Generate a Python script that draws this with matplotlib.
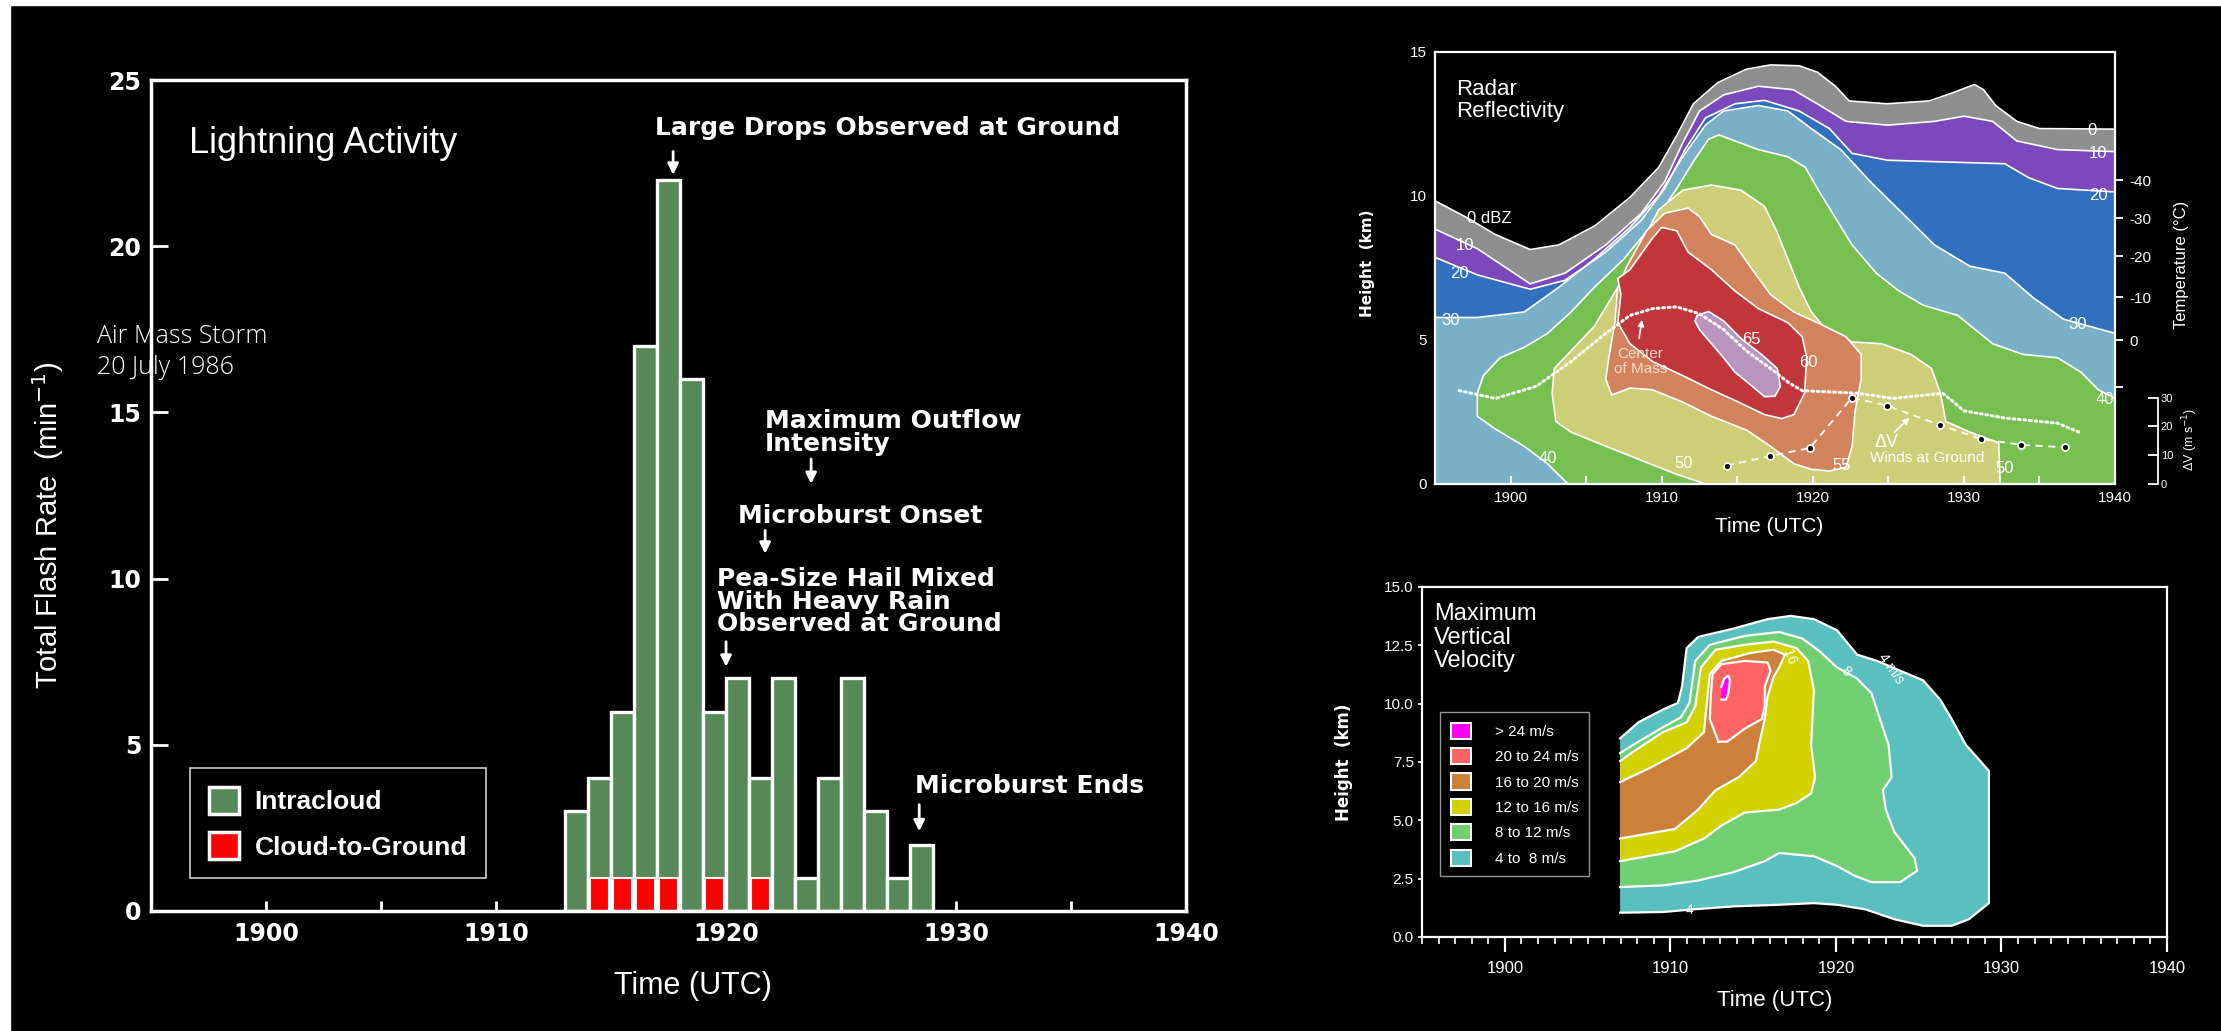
import numpy as np
import matplotlib.pyplot as plt
from matplotlib.patches import Patch, Rectangle

plt.rcParams['font.family'] = ['Liberation Sans', 'DejaVu Sans']
NARROW = ['Liberation Sans Narrow', 'Liberation Sans', 'DejaVu Sans']

# ---------------- lightning activity (left) ----------------
bin_start = [1913, 1914, 1915, 1916, 1917, 1918, 1919, 1920,
             1921, 1922, 1923, 1924, 1925, 1926, 1927, 1928]
total_rate = [3, 4, 6, 17, 22, 16, 6, 7, 4, 7, 1, 4, 7, 3, 1, 2]
cg_start = [1914, 1915, 1916, 1917, 1919, 1921]
cg_rate = [1, 1, 1, 1, 1, 1]

# text, text x, text y, arrow x, arrow tail, arrow tip
events = [
    ("Large Drops Observed at Ground", 1916.9, 23.55, 1917.7, 22.85, 22.15),
    ("Maximum Outflow\nIntensity", 1921.7, 14.4, 1923.7, 13.6, 12.85),
    ("Microburst Onset", 1920.5, 11.88, 1921.7, 11.45, 10.75),
    ("Pea-Size Hail Mixed\nWith Heavy Rain\nObserved at Ground", 1919.6, 9.3, 1920.0, 8.1, 7.35),
    ("Microburst Ends", 1928.2, 3.76, 1928.4, 3.2, 2.4),
]

# ---------------- radar reflectivity (top right) ----------------
# upper edges of the layered echo (time UTC, height km)
dbz0_top = [(1895.0, 9.83), (1897.0, 9.28), (1899.0, 8.66), (1901.3, 8.14), (1903.2, 8.30),
            (1905.6, 8.97), (1907.9, 9.95), (1909.8, 10.99), (1911.0, 12.10), (1912.1, 13.20),
            (1913.7, 13.93), (1915.6, 14.40), (1917.2, 14.55), (1919.1, 14.52), (1920.3, 14.30),
            (1921.5, 13.81), (1922.4, 13.30), (1924.9, 13.20), (1927.7, 13.30), (1929.2, 13.57),
            (1930.7, 13.87), (1931.3, 13.69), (1932.1, 13.14), (1933.5, 12.59), (1935.0, 12.34),
            (1940.0, 12.32)]
dbz10_top = [(1895.0, 8.85), (1897.8, 8.17), (1901.3, 6.95), (1903.6, 7.32), (1906.3, 8.30),
             (1908.65, 9.40), (1910.2, 10.50), (1911.4, 11.85), (1912.5, 12.95), (1914.1, 13.51),
             (1916.4, 13.81), (1918.7, 13.69), (1920.3, 13.20), (1922.2, 12.59), (1924.95, 12.46),
             (1928.05, 12.59), (1930.0, 12.77), (1931.9, 12.59), (1933.5, 11.91), (1936.2, 11.61),
             (1940.0, 11.54)]
dbz20_top = [(1895.0, 7.87), (1897.8, 7.26), (1901.3, 6.76), (1903.6, 7.07), (1906.3, 8.05),
             (1908.65, 9.15), (1910.2, 10.26), (1911.55, 11.61), (1912.9, 12.71), (1914.85, 13.20),
             (1916.8, 13.32), (1919.1, 12.95), (1921.1, 12.34), (1922.6, 11.48), (1924.95, 11.24),
             (1928.8, 11.18), (1932.7, 11.12), (1934.3, 10.63), (1936.2, 10.26), (1940.0, 10.14)]
dbz30_top = [(1895.0, 5.78), (1897.8, 5.78), (1900.9, 5.97), (1903.2, 6.83), (1905.55, 7.81),
             (1907.9, 8.91), (1909.8, 10.01), (1911.4, 11.36), (1912.9, 12.46), (1914.1, 12.95),
             (1916.4, 13.14), (1918.35, 12.95), (1919.9, 12.34), (1921.85, 11.61), (1923.8, 10.50),
             (1925.7, 9.52), (1928.05, 8.30), (1930.4, 7.56), (1932.7, 7.32), (1934.6, 6.46),
             (1936.6, 5.72), (1940.0, 5.23)]
# closed cores
dbz40_edge = [(1903.8, 0.0), (1902.45, 0.70), (1900.9, 1.31), (1898.96, 1.92), (1897.8, 2.35),
              (1897.8, 3.15), (1898.2, 3.76), (1899.3, 4.38), (1900.9, 4.74), (1902.45, 5.23),
              (1904.0, 5.97), (1905.55, 6.83), (1907.5, 7.81), (1909.4, 9.03), (1911.0, 10.26),
              (1912.15, 11.24), (1913.1, 11.97), (1913.8, 12.12), (1914.85, 11.91), (1916.4, 11.61),
              (1918.35, 11.36), (1919.5, 11.00), (1920.3, 10.26), (1921.45, 9.28), (1922.6, 8.30),
              (1924.2, 7.32), (1925.7, 6.70), (1927.3, 6.21), (1929.6, 5.85), (1931.9, 4.87),
              (1933.9, 4.50), (1936.2, 4.38), (1937.75, 3.88), (1938.9, 3.27), (1940.0, 2.97),
              (1940.0, 0.0)]
dbz50_edge = [(1912.9, 0.0), (1911.0, 0.33), (1908.65, 0.82), (1906.3, 1.31), (1904.0, 1.80),
              (1903.0, 2.17), (1902.75, 3.15), (1902.9, 4.01), (1904.0, 4.62), (1905.55, 5.48),
              (1907.1, 6.83), (1908.45, 8.17), (1909.8, 9.52), (1911.4, 10.20), (1913.3, 10.38),
              (1915.25, 10.20), (1916.8, 9.64), (1917.6, 8.79), (1918.35, 7.81), (1919.1, 6.83),
              (1919.9, 5.97), (1921.1, 5.23), (1922.6, 4.93), (1924.55, 4.87), (1926.5, 4.50),
              (1927.85, 4.01), (1928.45, 3.15), (1928.8, 2.17), (1930.4, 1.80), (1932.3, 1.43),
              (1932.4, 0.0)]
dbz55_edge = [(1906.7, 3.09), (1906.3, 3.64), (1906.5, 4.38), (1906.9, 5.60), (1907.1, 6.83),
              (1907.7, 7.56), (1909.0, 8.79), (1910.2, 9.40), (1911.75, 9.58), (1912.5, 9.28),
              (1913.3, 8.66), (1914.85, 8.30), (1916.0, 7.44), (1917.2, 6.58), (1918.75, 5.97),
              (1920.3, 5.60), (1922.2, 5.11), (1923.2, 4.50), (1923.2, 3.64), (1922.8, 2.54),
              (1922.6, 1.31), (1922.2, 0.58), (1921.1, 0.45), (1919.9, 0.51), (1918.75, 0.70),
              (1917.2, 1.31), (1915.65, 1.86), (1913.3, 2.35), (1911.4, 2.84), (1909.4, 3.27),
              (1907.9, 3.33)]
dbz60_edge = [(1907.1, 7.13), (1907.9, 7.44), (1909.4, 8.54), (1910.0, 8.91), (1911.0, 8.79),
              (1911.75, 8.05), (1913.3, 7.44), (1914.85, 6.70), (1916.4, 6.09), (1918.35, 5.60),
              (1919.3, 5.11), (1919.6, 4.38), (1919.45, 3.15), (1918.75, 2.41), (1917.95, 2.27),
              (1916.8, 2.41), (1914.85, 2.90), (1913.3, 3.27), (1911.4, 3.76), (1909.4, 4.25),
              (1907.9, 4.87), (1907.1, 5.60), (1907.3, 6.58)]
dbz65_edge = [(1912.35, 5.85), (1913.1, 5.99), (1914.1, 5.66), (1915.25, 5.05), (1916.6, 4.50),
              (1917.65, 4.01), (1917.85, 3.39), (1917.5, 3.05), (1916.8, 3.03), (1916.0, 3.39),
              (1914.85, 3.88), (1914.1, 4.38), (1913.3, 4.87), (1912.5, 5.36), (1912.2, 5.66)]

dbz_colors = {'0': '#8e8e8e', '10': '#7b49bb', '20': '#3270bf', '30': '#79afc7',
              '40': '#78bf52', '50': '#cfce78', '55': '#d2825c', '60': '#c0363a', '65': '#b994bf'}

dbz_labels = [("0 dBZ", 1898.6, 9.2), ("10", 1897.0, 8.27), ("20", 1896.6, 7.32), ("30", 1896.05, 5.69),
              ("40", 1902.45, 0.88), ("50", 1911.45, 0.70), ("55", 1921.9, 0.64), ("60", 1919.7, 4.23),
              ("65", 1915.95, 5.01), ("50", 1932.7, 0.54), ("0", 1938.45, 12.28), ("10", 1938.9, 11.48),
              ("20", 1938.9, 10.01), ("30", 1937.55, 5.54), ("40", 1939.3, 2.93)]

# storm centre of mass
com_t = [1896.6, 1899.0, 1901.7, 1904.0, 1906.3, 1907.9, 1909.4, 1911.0, 1912.5, 1914.1, 1915.6,
         1917.2, 1918.4, 1919.3, 1923.0, 1925.3, 1928.6, 1930.0, 1932.7, 1936.2, 1937.6]
com_h = [3.24, 2.97, 3.39, 4.25, 5.23, 5.85, 6.09, 6.15, 5.91, 5.36, 4.62,
         4.01, 3.52, 3.24, 3.15, 2.97, 3.15, 2.54, 2.29, 2.11, 1.80]

# surface wind differential
dv_t = [1914.3, 1917.2, 1919.8, 1922.6, 1924.9, 1928.4, 1931.15, 1933.8, 1936.7]
dv = [6.4, 9.7, 12.5, 30.0, 27.2, 20.5, 15.6, 13.6, 12.7]

temp_c = [-40, -30, -20, -10, 0]
temp_height = [10.54, 9.22, 7.90, 6.48, 4.99]

# ---------------- maximum vertical velocity (bottom right) ----------------
w4_edge = [(1906.96, 1.04), (1906.96, 8.51), (1908.07, 9.20), (1909.56, 9.75), (1910.45, 10.03),
           (1910.70, 10.72), (1910.98, 12.38), (1911.68, 12.86), (1913.78, 13.21), (1915.87, 13.62),
           (1917.27, 13.76), (1918.67, 13.62), (1920.07, 13.14), (1921.28, 12.10), (1922.49, 11.83),
           (1923.88, 11.41), (1925.26, 11.00), (1926.30, 10.17), (1926.99, 9.34), (1927.85, 8.23),
           (1928.72, 7.54), (1929.24, 7.12), (1929.24, 1.45), (1928.03, 0.76), (1926.99, 0.48),
           (1925.26, 0.48), (1923.53, 0.76), (1921.80, 1.18), (1920.07, 1.38), (1918.67, 1.45),
           (1916.57, 1.38), (1913.78, 1.31), (1911.33, 1.18), (1909.56, 1.07)]
w8_edge = [(1906.96, 2.14), (1906.96, 7.88), (1908.07, 8.37), (1909.56, 8.99), (1910.63, 9.41),
           (1911.15, 10.03), (1911.50, 11.83), (1912.38, 12.52), (1914.48, 12.90), (1916.57, 13.07),
           (1917.97, 12.79), (1919.02, 12.24), (1920.07, 11.55), (1921.28, 11.07), (1922.15, 10.44),
           (1922.66, 9.34), (1923.18, 8.23), (1923.36, 6.85), (1922.84, 6.29), (1923.01, 5.46),
           (1923.53, 4.50), (1924.74, 3.39), (1924.91, 2.84), (1923.88, 2.35), (1922.15, 2.35),
           (1921.11, 2.63), (1920.07, 3.04), (1918.67, 3.46), (1916.57, 3.60), (1915.70, 3.25),
           (1913.78, 2.77), (1911.68, 2.42), (1909.56, 2.21)]
w12_edge = [(1906.96, 3.25), (1906.96, 7.54), (1908.07, 8.09), (1909.56, 8.78), (1910.98, 9.20),
            (1911.50, 9.89), (1911.85, 11.55), (1912.73, 12.31), (1914.48, 12.52), (1916.22, 12.66),
            (1917.62, 12.38), (1918.32, 11.83), (1918.67, 10.58), (1918.50, 8.23), (1918.74, 6.85),
            (1918.50, 6.15), (1917.62, 5.74), (1916.57, 5.46), (1914.48, 5.33), (1913.08, 4.77),
            (1912.03, 4.22), (1910.28, 3.67), (1908.07, 3.39)]
w16_edge = [(1906.96, 4.22), (1906.96, 6.64), (1908.81, 7.26), (1910.98, 8.09), (1912.03, 8.78),
            (1912.20, 10.03), (1912.38, 11.27), (1913.08, 11.83), (1914.83, 12.17), (1916.22, 12.31),
            (1916.92, 12.10), (1916.57, 11.55), (1916.22, 11.13), (1915.87, 10.30), (1915.70, 9.34),
            (1915.35, 8.23), (1915.17, 7.54), (1914.13, 6.85), (1912.73, 6.29), (1911.68, 5.46),
            (1910.28, 4.63)]
w20_edge = [(1912.90, 8.37), (1912.38, 9.34), (1912.45, 10.44), (1912.55, 11.27), (1913.08, 11.69),
            (1914.48, 11.83), (1915.87, 11.76), (1916.05, 11.41), (1915.70, 10.72), (1915.70, 9.89),
            (1915.52, 9.34), (1914.48, 8.92), (1913.43, 8.37)]
w24_edge = [(1913.08, 10.17), (1913.08, 10.72), (1913.25, 11.07), (1913.50, 11.20), (1913.60, 11.00),
            (1913.50, 10.44), (1913.36, 10.17)]

w_classes = ["> 24 m/s", "20 to 24 m/s", "16 to 20 m/s", "12 to 16 m/s", "8 to 12 m/s", "4 to  8 m/s"]
w_colors = ['#ff00ff', '#ff6464', '#cd7f3c', '#d2d200', '#70cf70', '#5abfbf']

GREEN = '#578857'

fig = plt.figure(figsize=(22.21, 10.31), dpi=100, facecolor='black')
# scanner margin along the top and left edges
fig.patches.append(Rectangle((0, 0.995), 1, 0.005, transform=fig.transFigure, color='white', zorder=0))
fig.patches.append(Rectangle((0, 0), 0.0045, 1, transform=fig.transFigure, color='white', zorder=0))


def style_axes(ax, lw):
    ax.set_facecolor('black')
    for s in ax.spines.values():
        s.set_color('white')
        s.set_linewidth(lw)


# ===== left panel =====
ax1 = fig.add_axes([0.0680, 0.1164, 0.4660, 0.8060])
style_axes(ax1, 2.5)
ax1.bar(bin_start, total_rate, width=1, align='edge', color=GREEN, edgecolor='white', linewidth=2.4)
ax1.bar(np.array(cg_start) + 0.5, cg_rate, width=0.8, color='#ff0000', edgecolor='white', linewidth=1.5)
ax1.set_xlim(1895, 1940)
ax1.set_ylim(0, 25)
ax1.set_xticks([1900, 1910, 1920, 1930, 1940])
ax1.set_xticks([1905, 1915, 1925, 1935], minor=True)
ax1.set_yticks([0, 5, 10, 15, 20, 25])
ax1.tick_params(axis='x', which='both', direction='in', length=7, width=2, colors='white',
                labelsize=17, pad=8)
ax1.tick_params(axis='y', direction='in', length=12, width=2, colors='white', labelsize=17, pad=7)
for lab in ax1.get_xticklabels() + ax1.get_yticklabels():
    lab.set_fontweight('bold')
    lab.set_family('DejaVu Sans')

ax1.text(1896.66, 23.1, "Lightning Activity", color='white', fontsize=26, va='center')
for text, tx, ty, ax_x, tail, tip in events:
    ax1.text(tx, ty, text, color='white', fontsize=18, fontweight='bold', family='DejaVu Sans',
             va='center', ha='left', linespacing=0.92)
    ax1.annotate('', xy=(ax_x, tip), xytext=(ax_x, tail),
                 arrowprops=dict(arrowstyle='-|>', color='white', lw=2, mutation_scale=16,
                                 shrinkA=0, shrinkB=0))

leg1 = ax1.legend(handles=[Patch(facecolor=GREEN, edgecolor='white', lw=2.5, label='Intracloud'),
                           Patch(facecolor='#ff0000', edgecolor='white', lw=2.5, label='Cloud-to-Ground')],
                  loc='upper left', bbox_to_anchor=(0.0377, 0.172), borderaxespad=0,
                  prop={'family': NARROW, 'weight': 'bold', 'size': 19},
                  handlelength=1.15, handleheight=1.2, labelspacing=0.7, borderpad=0.7,
                  handletextpad=0.6, frameon=True, fancybox=False)
leg1.get_frame().set_facecolor('black')
leg1.get_frame().set_edgecolor('white')
leg1.get_frame().set_linewidth(1.2)
for t in leg1.get_texts():
    t.set_color('white')

fig.text(0.0216, 0.491, "Total Flash Rate  (min$^{-1}$)", rotation=90, color='white',
         fontsize=21, ha='center', va='center')
fig.text(0.312, 0.044, "Time (UTC)", color='white', fontsize=22, family=NARROW, ha='center', va='center')
fig.text(0.0437, 0.674, "Air Mass Storm", color='white', fontsize=18, family=['Open Sans', 'DejaVu Sans'],
         fontweight='light', ha='left', va='center')
fig.text(0.0437, 0.644, "20 July 1986", color='white', fontsize=18, family=['Open Sans', 'DejaVu Sans'],
         fontweight='light', ha='left', va='center')

# ===== radar reflectivity =====
ax2 = fig.add_axes([0.6461, 0.5306, 0.3062, 0.4190])
style_axes(ax2, 1.6)
for edge, key in [(dbz0_top, '0'), (dbz10_top, '10'), (dbz20_top, '20'), (dbz30_top, '30')]:
    t, h = np.array(edge).T
    ax2.fill_between(t, 0, h, color=dbz_colors[key], lw=0)
for edge, key in [(dbz40_edge, '40'), (dbz50_edge, '50'), (dbz55_edge, '55'),
                  (dbz60_edge, '60'), (dbz65_edge, '65')]:
    t, h = np.array(edge).T
    ax2.fill(t, h, facecolor=dbz_colors[key], edgecolor='white', lw=1.2)
for edge in [dbz0_top, dbz10_top, dbz20_top, dbz30_top]:
    t, h = np.array(edge).T
    ax2.plot(t, h, color='white', lw=1.2)
for text, tx, ty in dbz_labels:
    ax2.text(tx, ty, text, color='white', fontsize=12, ha='center', va='center', family=NARROW)

ax2.plot(com_t, com_h, color='white', lw=2.2, ls=(0, (0.6, 1.2)), dash_capstyle='round')
ax2.text(1908.6, 4.25, "Center\nof Mass", color='#f6dccc', fontsize=11, family=NARROW,
         ha='center', va='center', linespacing=1.05)
ax2.annotate('', xy=(1908.7, 5.7), xytext=(1908.5, 5.05),
             arrowprops=dict(arrowstyle='-|>', color='white', lw=1.2, mutation_scale=9, shrinkA=0, shrinkB=0))
ax2.text(1924.9, 1.45, "ΔV", color='white', fontsize=13, ha='center', va='center')
ax2.text(1927.6, 0.9, "Winds at Ground", color='white', fontsize=11, family=NARROW, ha='center', va='center')
ax2.annotate('', xy=(1926.4, 2.3), xytext=(1925.4, 1.8),
             arrowprops=dict(arrowstyle='-|>', color='white', lw=1.2, mutation_scale=9, shrinkA=0, shrinkB=0))
ax2.text(1896.4, 14.05, "Radar\nReflectivity", color='white', fontsize=16, family=NARROW,
         ha='left', va='top', linespacing=1.05)

ax2.set_xlim(1895, 1940)
ax2.set_ylim(0, 15)
ax2.set_xticks([1900, 1910, 1920, 1930, 1940])
ax2.set_xticks([1905, 1915, 1925, 1935], minor=True)
ax2.set_yticks([0, 5, 10, 15])
ax2.tick_params(axis='x', which='both', direction='in', length=6, width=1.5, colors='white',
                labelsize=11, pad=5)
ax2.tick_params(axis='y', direction='in', length=0, colors='white', labelsize=11, pad=6)
for lab in ax2.get_xticklabels() + ax2.get_yticklabels():
    lab.set_family(NARROW)

ax_temp = ax2.twinx()
ax_temp.set_ylim(0, 15)
ax_temp.set_yticks(temp_height + [3.36])
ax_temp.set_yticklabels([str(c) for c in temp_c] + [''])
ax_temp.tick_params(axis='y', direction='out', length=6, width=1.3, colors='white', labelsize=11, pad=4)
for s in ax_temp.spines.values():
    s.set_visible(False)
for lab in ax_temp.get_yticklabels():
    lab.set_family(NARROW)

ax_dv = ax2.twinx()
ax_dv.set_ylim(0, 150)
ax_dv.plot(dv_t, dv, color='white', lw=1.3, ls=(0, (4, 3)), marker='o', ms=5,
           mfc='black', mec='white', mew=1.3)
for s in ['top', 'bottom', 'left']:
    ax_dv.spines[s].set_visible(False)
ax_dv.spines['right'].set_position(('outward', 31))
ax_dv.spines['right'].set_bounds(0, 30)
ax_dv.spines['right'].set_color('white')
ax_dv.spines['right'].set_linewidth(1.3)
ax_dv.set_yticks([0, 10, 20, 30])
ax_dv.tick_params(axis='y', direction='in', length=7, width=1.3, colors='white', labelsize=8, pad=2)
for lab in ax_dv.get_yticklabels():
    lab.set_family(NARROW)

fig.text(0.6159, 0.745, "Height  (km)", rotation=90, color='white', fontsize=11, fontweight='bold',
         family='DejaVu Sans', ha='center', va='center')
fig.text(0.7964, 0.489, "Time (UTC)", color='white', fontsize=15, family=NARROW, ha='center', va='center')
fig.text(0.9820, 0.743, "Temperature (°C)", rotation=90, color='white', fontsize=12, family=NARROW,
         ha='center', va='center')
fig.text(0.9862, 0.574, "ΔV (m s$^{-1}$)", rotation=90, color='white', fontsize=9, family=NARROW,
         ha='center', va='center')

# ===== maximum vertical velocity =====
ax3 = fig.add_axes([0.6403, 0.0912, 0.3354, 0.3395])
style_axes(ax3, 1.6)
for edge, color in zip([w4_edge, w8_edge, w12_edge, w16_edge, w20_edge, w24_edge], w_colors[::-1]):
    pts = np.array(edge)
    ax3.fill(pts[:, 0], pts[:, 1], facecolor=color, lw=0)
    if pts[0, 0] == pts[1, 0]:
        # open along the left edge where the analysis starts
        line = np.vstack([pts[1:], pts[:1]])
    else:
        line = np.vstack([pts, pts[:1]])
    ax3.plot(line[:, 0], line[:, 1], color='white', lw=1.6)
ax3.text(1917.2, 12.0, "16", color='white', fontsize=10, rotation=-70, ha='center', va='center', family=NARROW)
ax3.text(1920.6, 11.4, "8", color='white', fontsize=10, rotation=-40, ha='center', va='center', family=NARROW)
ax3.text(1923.3, 11.5, "4 m/s", color='white', fontsize=10, rotation=-55, ha='center', va='center', family=NARROW)
ax3.text(1911.15, 1.15, "4", color='white', fontsize=10, ha='center', va='center', family=NARROW)
ax3.text(1895.7, 14.3, "Maximum\nVertical\nVelocity", color='white', fontsize=17, family=NARROW,
         ha='left', va='top', linespacing=1.08)

leg3 = ax3.legend(handles=[Patch(facecolor=c, edgecolor='white', lw=1.5, label=l)
                           for c, l in zip(w_colors, w_classes)],
                  loc='upper left', bbox_to_anchor=(0.024, 0.643), borderaxespad=0,
                  prop={'family': NARROW, 'size': 11}, handlelength=1.3, handleheight=1.25,
                  labelspacing=0.6, borderpad=0.7, handletextpad=1.6, frameon=True, fancybox=False)
leg3.get_frame().set_facecolor('black')
leg3.get_frame().set_edgecolor('#bbbbbb')
leg3.get_frame().set_linewidth(1.0)
for t in leg3.get_texts():
    t.set_color('white')

ax3.set_xlim(1895, 1940)
ax3.set_ylim(0, 15)
ax3.set_xticks([1900, 1910, 1920, 1930, 1940])
ax3.set_xticks(np.arange(1895, 1941, 1), minor=True)
ax3.set_yticks([0, 2.5, 5, 7.5, 10, 12.5, 15])
ax3.set_yticklabels(['0.0', '2.5', '5.0', '7.5', '10.0', '12.5', '15.0'])
ax3.tick_params(axis='x', which='major', direction='out', length=11, width=1.6, colors='white',
                labelsize=12, pad=6)
ax3.tick_params(axis='x', which='minor', direction='out', length=5, width=1.2, colors='white')
ax3.tick_params(axis='y', direction='out', length=3, width=1.2, colors='white', labelsize=11, pad=3)
for lab in ax3.get_xticklabels() + ax3.get_yticklabels():
    lab.set_family(NARROW)

fig.text(0.6052, 0.261, "Height  (km)", rotation=90, color='white', fontsize=12, fontweight='bold',
         family='DejaVu Sans', ha='center', va='center')
fig.text(0.799, 0.030, "Time (UTC)", color='white', fontsize=16, family=NARROW, ha='center', va='center')

fig.savefig('out.png', dpi=100, facecolor='black')
